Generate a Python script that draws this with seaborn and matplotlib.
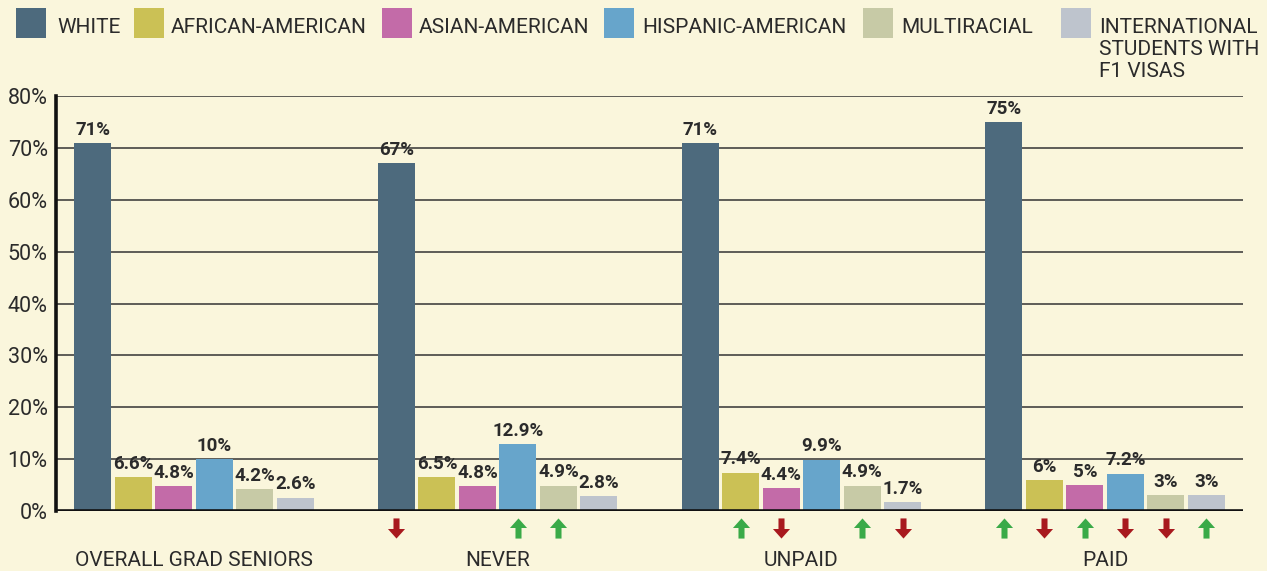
import numpy as np
import pandas as pd
import seaborn as sns
import matplotlib.pyplot as plt
from matplotlib.patches import Rectangle
from matplotlib.path import Path

# データ
groups = ["OVERALL GRAD SENIORS", "NEVER", "UNPAID", "PAID"]
races = ["WHITE", "AFRICAN-AMERICAN", "ASIAN-AMERICAN", "HISPANIC-AMERICAN",
         "MULTIRACIAL", "INTERNATIONAL\nSTUDENTS WITH\nF1 VISAS"]
white = [71, 67, 71, 75]
african = [6.6, 6.5, 7.4, 6]
asian = [4.8, 4.8, 4.4, 5]
hispanic = [10, 12.9, 9.9, 7.2]
multi = [4.2, 4.9, 4.9, 3]
intl = [2.6, 2.8, 1.7, 3]

# 全体と比べた増減 (1=上, -1=下, 0=なし)
trend_white = [0, -1, 0, 1]
trend_african = [0, 0, 1, -1]
trend_asian = [0, 0, -1, 1]
trend_hispanic = [0, 1, 0, -1]
trend_multi = [0, 1, 1, -1]
trend_intl = [0, 0, -1, 1]

yticks = [0, 10, 20, 30, 40, 50, 60, 70, 80]

series = [white, african, asian, hispanic, multi, intl]
trends = [trend_white, trend_african, trend_asian, trend_hispanic, trend_multi, trend_intl]
colors = ["#4d6a7d", "#cbc155", "#c36ba8", "#67a5cb", "#c7caa6", "#bec4cd"]

rows = []
for race, vals in zip(races, series):
    for g, v in zip(groups, vals):
        rows.append({"group": g, "race": race, "value": v})
df = pd.DataFrame(rows)

bg = "#faf6dc"
sns.set_style("white")
plt.rcParams["font.family"] = ["Roboto", "DejaVu Sans"]
txt = "#2b2b2b"

W, H = 1267, 571
fig = plt.figure(figsize=(W / 100, H / 100), dpi=100, facecolor=bg)
ax = fig.add_axes([56 / W, 60 / H, (1243 - 56) / W, (511 - 96) / H])
ax.set_facecolor(bg)

sns.barplot(data=df, x="group", y="value", hue="race", order=groups,
            hue_order=races, palette=colors, saturation=1, width=0.8,
            gap=0.09, legend=False, linewidth=0, ax=ax, zorder=3)

ax.set_ylim(0, 80)
ax.set_xlim(-0.454, 3.454)
ax.set_yticks(yticks)
ax.set_yticklabels([f"{t}%" for t in yticks], fontsize=15.5, color=txt)
for t in yticks[1:]:
    ax.axhline(t, color="#333333", lw=1.1, zorder=1)
ax.axhline(0, color="#111111", lw=2.6, zorder=4)

for s in ["top", "right", "bottom"]:
    ax.spines[s].set_visible(False)
ax.spines["left"].set_color("#111111")
ax.spines["left"].set_linewidth(2.6)
ax.spines["left"].set_zorder(5)

ax.set_xlabel("")
ax.set_ylabel("")
ax.set_xticks(range(len(groups)))
ax.set_xticklabels(groups, fontsize=15, color=txt)
ax.tick_params(axis="x", length=0, pad=29)
ax.tick_params(axis="y", length=0, pad=6)

# 値ラベル
for cont, vals in zip(ax.containers, series):
    ax.bar_label(cont, labels=[f"{v:g}%" for v in vals], padding=3,
                 fontsize=13.5, fontweight="bold", color=txt, zorder=6)

# 矢印マーカー
up = Path([(-0.85, 0.05), (0, 1), (0.85, 0.05), (0.3, 0.05), (0.3, -1),
           (-0.3, -1), (-0.3, 0.05), (-0.85, 0.05)],
          [Path.MOVETO] + [Path.LINETO] * 6 + [Path.CLOSEPOLY])
down = Path([(x, -y) for x, y in up.vertices], up.codes)
for cont, tr in zip(ax.containers, trends):
    for bar, t in zip(cont, tr):
        if t == 0:
            continue
        xc = bar.get_x() + bar.get_width() / 2
        ax.scatter([xc], [-3.3], marker=up if t > 0 else down, s=210,
                   color="#3aaa48" if t > 0 else "#a8191e", lw=0,
                   clip_on=False, zorder=6)

# 凡例
patch_x = [16, 134, 382, 604, 863, 1061]
text_x = [57, 171, 419, 642, 901, 1099]
for px, tx, c, lab in zip(patch_x, text_x, colors, races):
    fig.add_artist(Rectangle((px / W, 1 - 38 / H), 30 / W, 30 / H,
                             transform=fig.transFigure, color=c, lw=0))
    for i, line in enumerate(lab.split("\n")):
        fig.text(tx / W, 1 - (33 + 22 * i) / H, line, ha="left",
                 va="baseline", fontsize=15, color=txt)

fig.savefig("out.png", dpi=100, facecolor=bg)
